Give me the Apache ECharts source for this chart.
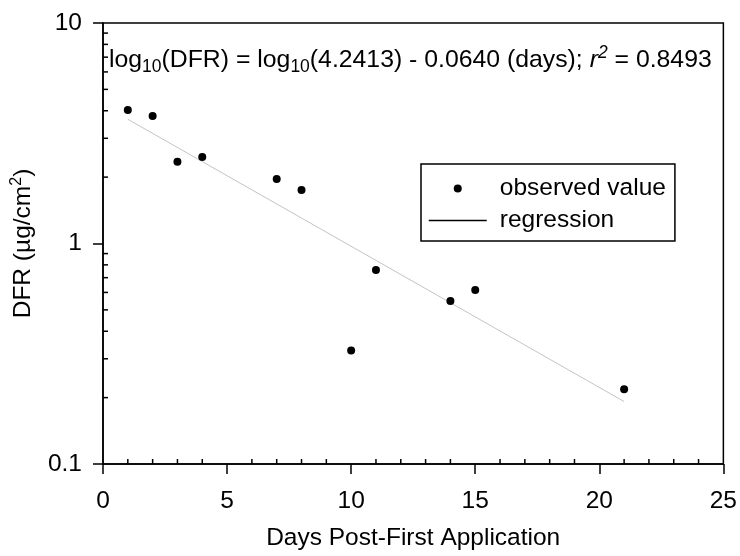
<!DOCTYPE html>
<html>
<head>
<meta charset="utf-8">
<script src="https://cdn.jsdelivr.net/npm/echarts@6/dist/echarts.min.js"></script>
<style>html,body{margin:0;padding:0;background:#fff}#c{width:740px;height:556px}</style>
</head>
<body>
<div id="c"></div>
<script>
// Observed data (days, DFR µg/cm²)
const days = [1, 2, 3, 4, 7, 8, 10, 11, 14, 15, 21];
const dfr = [4.03, 3.79, 2.35, 2.47, 1.96, 1.75, 0.327, 0.758, 0.549, 0.616, 0.218];
// Regression line endpoints
const regDays = [1, 21];
const regDfr = [3.66, 0.192];
// Axis tick values
const xTicks = [0, 5, 10, 15, 20, 25];
const xMinorTicks = [1, 2, 3, 4, 6, 7, 8, 9, 11, 12, 13, 14, 16, 17, 18, 19, 21, 22, 23, 24];
const yTicks = [0.1, 1, 10];
const yMinorTicks = [0.2, 0.3, 0.4, 0.5, 0.6, 0.7, 0.8, 0.9, 2, 3, 4, 5, 6, 7, 8, 9];

const FONT = 'Liberation Sans, Arial, sans-serif';
const FS = 24.5;

const chart = echarts.init(document.getElementById('c'), null, {renderer: 'canvas'});

const tickRender = (dir) => function (params, api) {
  const p = api.coord([api.value(0), api.value(1)]);
  return {
    type: 'line',
    shape: dir === 'y' ? {x1: p[0], y1: p[1], x2: p[0] + 5, y2: p[1]} : {x1: p[0], y1: p[1], x2: p[0], y2: p[1] - 5},
    style: {stroke: '#000', lineWidth: 1.5}
  };
};

chart.setOption({
  animation: false,
  backgroundColor: '#fff',
  textStyle: {fontFamily: FONT, color: '#000'},
  title: {
    left: 104, top: 39,
    text: 'log{sub|10}(DFR) = log{sub|10}(4.2413) - 0.0640 (days); {it|r}{sup|2} = 0.8493',
    textStyle: {
      fontFamily: FONT, fontSize: 24.8, fontWeight: 'normal', color: '#000', lineHeight: 32,
      rich: {
        sub: {fontFamily: FONT, fontSize: 17.5, verticalAlign: 'bottom', lineHeight: 16, color: '#000'},
        sup: {fontFamily: FONT, fontSize: 17.5, verticalAlign: 'top', lineHeight: 16, color: '#000', fontStyle: 'italic'},
        it: {fontFamily: FONT, fontSize: 24.8, fontStyle: 'italic', color: '#000'}
      }
    }
  },
  legend: {
    orient: 'vertical', left: 421, top: 164,
    padding: [12, 9, 8, 7],
    itemGap: 7,
    itemWidth: 58, itemHeight: 8,
    borderColor: '#000', borderWidth: 1.5,
    textStyle: {fontFamily: FONT, fontSize: FS, color: '#000', lineHeight: 22, padding: [0, 0, 0, 8]},
    data: [
      {name: 'observed value', icon: 'circle', itemStyle: {color: '#000', opacity: 1}},
      {name: 'regression', itemStyle: {color: 'rgba(0,0,0,0)', borderWidth: 0, opacity: 0}, lineStyle: {color: '#000', width: 1.5, opacity: 1}}
    ]
  },
  grid: {left: 103, right: 14, top: 23, bottom: 89, show: true, borderColor: '#000', borderWidth: 1.5, backgroundColor: 'transparent'},
  xAxis: {
    type: 'value', min: xTicks[0], max: xTicks[xTicks.length - 1], interval: 5,
    name: 'Days Post-First Application', nameLocation: 'middle', nameGap: 62,
    nameTextStyle: {fontFamily: FONT, fontSize: FS, color: '#000'},
    axisLine: {lineStyle: {color: '#000', width: 1.5}},
    axisTick: {length: 10, lineStyle: {color: '#000', width: 1.5}},
    axisLabel: {fontFamily: FONT, fontSize: FS, color: '#000', margin: 25},
    splitLine: {show: false}
  },
  yAxis: {
    type: 'log', logBase: 10, min: yTicks[0], max: yTicks[yTicks.length - 1],
    name: 'DFR (µg/cm{sup|2})', nameLocation: 'middle', nameGap: 62,
    nameTextStyle: {fontFamily: FONT, fontSize: FS, color: '#000', lineHeight: 28,
      rich: {sup: {fontFamily: FONT, fontSize: 16, verticalAlign: 'top', lineHeight: 16, color: '#000'}}},
    axisLine: {lineStyle: {color: '#000', width: 1.5}},
    axisTick: {length: 10, lineStyle: {color: '#000', width: 1.5}},
    axisLabel: {fontFamily: FONT, fontSize: FS, color: '#000', margin: 21,
      formatter: v => String(yTicks.find(t => Math.abs(t - v) / t < 1e-6) ?? v)},
    splitLine: {show: false}
  },
  series: [
    {
      name: 'observed value', type: 'scatter', symbol: 'circle', symbolSize: 8,
      itemStyle: {color: '#000', opacity: 1},
      data: days.map((d, i) => [d, dfr[i]]), z: 5
    },
    {
      name: 'regression', type: 'line', symbol: 'none',
      lineStyle: {color: '#c4c4c4', width: 1},
      data: regDays.map((d, i) => [d, regDfr[i]]), z: 3
    },
    {
      type: 'custom', silent: true, renderItem: tickRender('y'),
      data: yMinorTicks.map(v => [0, v]), z: 4
    },
    {
      type: 'custom', silent: true, renderItem: tickRender('x'),
      data: xMinorTicks.map(v => [v, 0.1]), z: 4
    }
  ]
});
</script>
</body>
</html>
